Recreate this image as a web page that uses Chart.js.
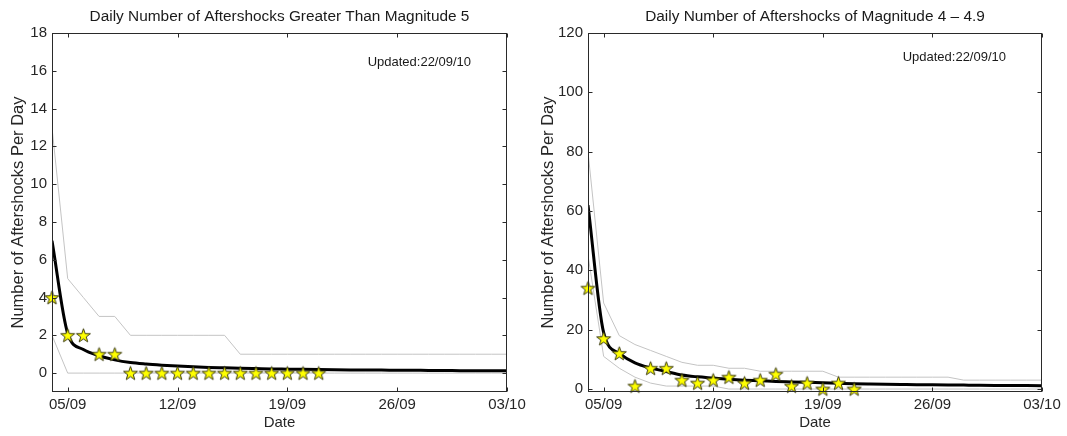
<!DOCTYPE html>
<html><head><meta charset="utf-8">
<script src="https://cdn.jsdelivr.net/npm/chart.js@4/dist/chart.umd.min.js"></script>
<style>
html,body{margin:0;padding:0;background:#fff;}
#wrap{position:relative;width:1067px;height:436px;overflow:hidden;background:#fff;}
.box{position:absolute;top:0;height:436px;}
#b1{left:0;width:530px;}
#b2{left:530px;width:537px;}
</style></head><body>
<div id="wrap"><div class="box" id="b1"><canvas id="c1"></canvas></div><div class="box" id="b2"><canvas id="c2"></canvas></div></div>
<script>
// ---- data (day index 0 = 04/09) ----
const days = ['04/09','05/09','06/09','07/09','08/09','09/09','10/09','11/09','12/09','13/09','14/09','15/09','16/09','17/09','18/09','19/09','20/09','21/09','22/09','23/09','24/09','25/09','26/09','27/09','28/09','29/09','30/09','01/10','02/10','03/10'];
const tickDays = [1, 8, 15, 22, 29];
const m5YTicks = [0, 2, 4, 6, 8, 10, 12, 14, 16, 18];
const m4YTicks = [0, 20, 40, 60, 80, 100, 120];

// magnitude >= 5
const m5Observed = [4, 2, 2, 1, 1, 0, 0, 0, 0, 0, 0, 0, 0, 0, 0, 0, 0, 0];
const m5Model = [7.0, 2.1, 1.25, 0.92, 0.7, 0.56, 0.48, 0.42, 0.37, 0.33, 0.3, 0.28, 0.26, 0.24, 0.22, 0.21, 0.2, 0.19, 0.18, 0.17, 0.16, 0.16, 0.15, 0.15, 0.14, 0.14, 0.13, 0.13, 0.12, 0.12];
const m5Upper = [13, 5, 4, 3, 3, 2, 2, 2, 2, 2, 2, 2, 1, 1, 1, 1, 1, 1, 1, 1, 1, 1, 1, 1, 1, 1, 1, 1, 1, 1];
const m5Lower = [2, 0, 0, 0, 0, 0, 0, 0, 0, 0, 0, 0, 0, 0, 0, 0, 0, 0, 0, 0, 0, 0, 0, 0, 0, 0, 0, 0, 0, 0];

// magnitude 4 - 4.9
const m4Observed = [34, 17, 12, 1, 7, 7, 3, 2, 3, 4, 2, 3, 5, 1, 2, 0, 2, 0];
const m4Model = [62, 19, 12, 8.8, 7.1, 5.9, 4.7, 4.1, 3.7, 3.3, 3.0, 2.8, 2.55, 2.4, 2.25, 2.1, 1.95, 1.8, 1.7, 1.62, 1.55, 1.48, 1.42, 1.37, 1.32, 1.27, 1.23, 1.19, 1.15, 1.11];
const m4Upper = [80, 29, 18, 15, 13, 11, 9, 8, 8, 7, 7, 6, 6, 6, 6, 6, 4, 4, 4, 4, 4, 4, 4, 4, 3, 3, 3, 3, 3, 3];
const m4Lower = [45, 11, 7, 4, 2, 1, 1, 1, 1, 0, 0, 0, 0, 0, 0, 0, 0, 0, 0, 0, 0, 0, 0, 0, 0, 0, 0, 0, 0, 0];

const updatedNote = 'Updated:22/09/10';

// ---- helpers ----
Chart.defaults.font.family = "'Liberation Sans', Arial, Helvetica, sans-serif";
Chart.defaults.color = '#262626';

function makeStar(r) {
  const s = Math.ceil(2 * r + 3) | 1;
  const c = document.createElement('canvas');
  c.width = s; c.height = s;
  const g = c.getContext('2d');
  const cx = s / 2, cy = s / 2 + 0.6, ri = r * 0.4;
  g.beginPath();
  for (let k = 0; k < 10; k++) {
    const rad = k % 2 ? ri : r;
    const a = -Math.PI / 2 + k * Math.PI / 5;
    g.lineTo(cx + rad * Math.cos(a), cy + rad * Math.sin(a));
  }
  g.closePath();
  g.fillStyle = '#ffff00';
  g.fill();
  g.lineWidth = 1;
  g.strokeStyle = '#3a3a10';
  g.stroke();
  return c;
}
const starImg = makeStar(7.3);

const toXY = arr => arr.map((v, i) => ({x: i, y: v}));

const axesBox = {
  id: 'axesBox',
  afterDraw(chart, args, opts) {
    const {ctx, chartArea} = chart;
    const L = Math.round(chartArea.left) + 0.5, R = Math.round(chartArea.right) - 0.5;
    const T = Math.round(chartArea.top) + 0.5, B = Math.round(chartArea.bottom) - 0.5;
    const xs = chart.scales.x, ys = chart.scales.y;
    ctx.save();
    ctx.strokeStyle = '#2a2a2a';
    ctx.lineWidth = 1;
    ctx.strokeRect(L, T, R - L, B - T);
    const tl = 4;
    ctx.beginPath();
    xs.ticks.forEach(t => {
      const p = Math.round(xs.getPixelForValue(t.value)) + 0.5;
      ctx.moveTo(p, B); ctx.lineTo(p, B - tl);
      ctx.moveTo(p, T); ctx.lineTo(p, T + tl);
    });
    ys.ticks.forEach(t => {
      const p = Math.round(ys.getPixelForValue(t.value)) + 0.5;
      ctx.moveTo(L, p); ctx.lineTo(L + tl, p);
      ctx.moveTo(R, p); ctx.lineTo(R - tl, p);
    });
    ctx.stroke();
    ctx.fillStyle = '#1a1a1a';
    ctx.font = "13px 'Liberation Sans', Arial, sans-serif";
    ctx.textAlign = 'right';
    ctx.textBaseline = 'middle';
    ctx.fillText(opts.note, chartArea.right - opts.dx, chartArea.top + opts.dy);
    ctx.restore();
  }
};

function build(canvasId, cfg) {
  const ds = [
    {label: 'Observed', data: toXY(cfg.obs), showLine: false, pointStyle: starImg, pointRadius: 7, pointHoverRadius: 7, clip: false, order: 0},
    {label: 'Model', data: toXY(cfg.model), borderColor: '#000000', borderWidth: 3, pointRadius: 0, cubicInterpolationMode: 'monotone', order: 1},
    {label: 'Upper', data: toXY(cfg.upper), borderColor: '#c4c4c4', borderWidth: 1, pointRadius: 0, tension: 0, order: 2},
    {label: 'Lower', data: toXY(cfg.lower), borderColor: '#c4c4c4', borderWidth: 1, pointRadius: 0, tension: 0, order: 2}
  ];
  return new Chart(document.getElementById(canvasId), {
    type: 'line',
    data: {datasets: ds},
    plugins: [axesBox],
    options: {
      responsive: true,
      maintainAspectRatio: false,
      animation: false,
      events: [],
      layout: {padding: {left: 0, right: cfg.padRight, top: 0, bottom: 0}},
      plugins: {
        legend: {display: false},
        tooltip: {enabled: false},
        title: {display: true, text: cfg.title, fullSize: false, font: {size: 15.4, weight: 'normal'}, color: '#1a1a1a', padding: {top: 7.8, bottom: 6.7}},
        axesBox: {note: updatedNote, dx: 36, dy: cfg.noteDy}
      },
      scales: {
        x: {
          type: 'linear', min: 0, max: 29,
          grid: {display: false, drawTicks: false},
          border: {display: false},
          afterBuildTicks: s => { s.ticks = tickDays.map(v => ({value: v})); },
          afterFit: s => { s.height = 44; },
          ticks: {autoSkip: false, maxRotation: 0, padding: 4, font: {size: 15}, callback: v => days[v]},
          title: {display: true, text: 'Date', font: {size: 15}, padding: {top: 0, bottom: 4}}
        },
        y: {
          type: 'linear', min: cfg.ymin, max: cfg.ymax,
          grid: {display: false, drawTicks: false},
          border: {display: false},
          afterBuildTicks: s => { s.ticks = cfg.yticks.map(v => ({value: v})); },
          afterFit: s => { s.width = cfg.yWidth; },
          ticks: {autoSkip: false, padding: 5, font: {size: 15}},
          title: {display: true, text: 'Number of Aftershocks Per Day', font: {size: 16.5}, padding: {top: 9, bottom: 0}}
        }
      }
    }
  });
}

build('c1', {title: 'Daily Number of Aftershocks Greater Than Magnitude 5', obs: m5Observed, model: m5Model, upper: m5Upper, lower: m5Lower, yticks: m5YTicks, ymin: -1, ymax: 18, yWidth: 52, padRight: 23, noteDy: 29});
build('c2', {title: 'Daily Number of Aftershocks of Magnitude 4 \u2013 4.9', obs: m4Observed, model: m4Model, upper: m4Upper, lower: m4Lower, yticks: m4YTicks, ymin: -1, ymax: 120, yWidth: 58, padRight: 25, noteDy: 24});
</script>
</body></html>
